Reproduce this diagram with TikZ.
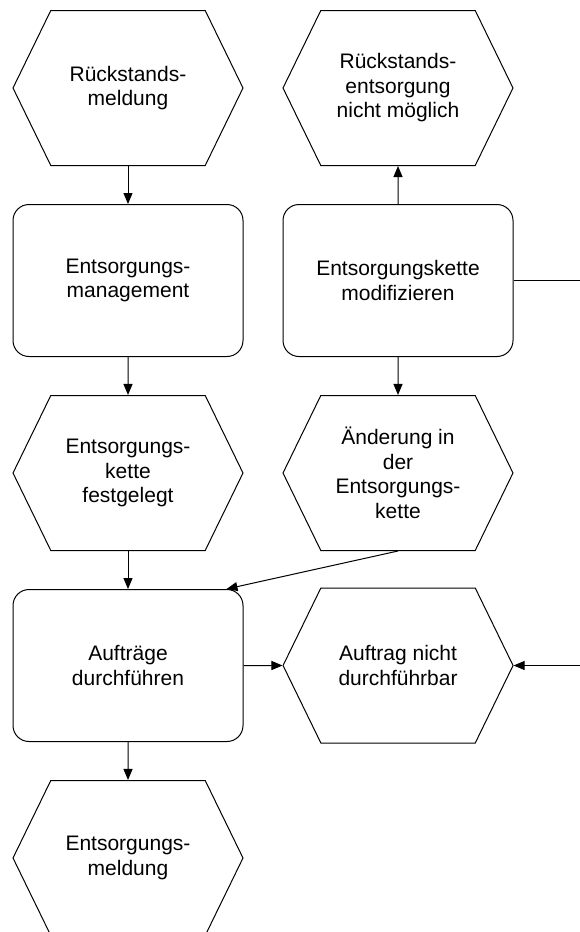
\documentclass[tikz,border=0pt]{standalone}
\usepackage{fontspec}
\setmainfont{Liberation Sans}
\usepackage{tikz}
\usetikzlibrary{shapes.symbols, positioning, arrows.meta}
\tikzstyle{event}=[signal, signal to=west and east, signal pointer angle=128, draw=black, line width=1pt, minimum width=230pt, minimum height=155pt, inner sep=0pt, align=center, font=\fontsize{21}{24.5}\selectfont]
\tikzstyle{function}=[rectangle, rounded corners=16pt, draw=black, line width=1pt, minimum width=230pt, minimum height=152pt, align=center, font=\fontsize{21}{24.5}\selectfont]
\tikzstyle{arrow}=[line width=1pt, -{Triangle[length=11pt, width=9pt]}]

\begin{document}
\begin{tikzpicture}[node distance=38pt and 39pt]
	\useasboundingbox (0,0) rectangle (579pt,-932pt);

		% left column
		\node[event] (rmeld) at (128pt,-88pt) {Rückstands-\\meldung};
		\node[function, below=of rmeld] (emgmt) {Entsorgungs-\\management};
		\node[event, below=of emgmt] (kfest) {Entsorgungs-\\kette\\festgelegt};
		\node[function, below=of kfest] (adurch) {Aufträge\\durchführen};
		\node[event, below=of adurch] (emeld) {Entsorgungs-\\meldung};

		% right column
		\node[function, right=of emgmt] (kmod) {Entsorgungskette\\modifizieren};
		\node[event, above=of kmod] (rnicht) {Rückstands-\\entsorgung\\nicht möglich};
		\node[event, below=of kmod] (aend) {Änderung in\\der\\Entsorgungs-\\kette};
		\node[event, right=of adurch] (anicht) {Auftrag nicht\\durchführbar};
		\coordinate (rand) at (580pt,0);

		\draw[arrow] (rmeld) -- (emgmt);
		\draw[arrow] (emgmt) -- (kfest);
		\draw[arrow] (kfest) -- (adurch);
		\draw[arrow] (adurch) -- (emeld);
		\draw[arrow] (kmod) -- (rnicht);
		\draw[arrow] (kmod) -- (aend);
		\draw[arrow] (aend.south) -- ([xshift=-17pt]adurch.north east);
		\draw[arrow] (adurch) -- (anicht);
		\draw[arrow] (anicht.east -| rand) -- (anicht.east);
		\draw[line width=1pt] (kmod.east) -- (kmod.east -| rand);
\end{tikzpicture}
\end{document}
